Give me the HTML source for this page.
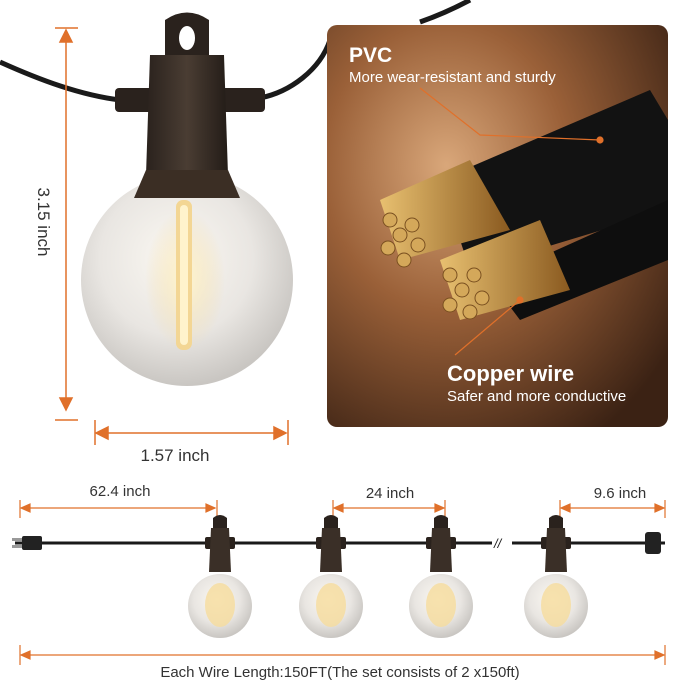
<!DOCTYPE html>
<html><head><meta charset="utf-8"><style>
html,body{margin:0;padding:0;background:#fff;}
svg{display:block;font-family:"Liberation Sans",sans-serif;}
</style></head><body>
<svg width="679" height="682" viewBox="0 0 679 682" xmlns="http://www.w3.org/2000/svg">
<defs>
<radialGradient id="glob" cx="45%" cy="40%" r="60%">
<stop offset="0" stop-color="#fbf8f2"/><stop offset="0.6" stop-color="#e9e6e2"/><stop offset="1" stop-color="#c9c6c2"/></radialGradient>
<radialGradient id="panel" cx="35%" cy="35%" r="80%">
<stop offset="0" stop-color="#d9a77a"/><stop offset="0.45" stop-color="#9a6038"/><stop offset="1" stop-color="#3b2214"/></radialGradient>
<linearGradient id="sock" x1="0" x2="1"><stop offset="0" stop-color="#2a221d"/><stop offset="0.5" stop-color="#4a3d33"/><stop offset="1" stop-color="#231c17"/></linearGradient>
<radialGradient id="glow" cx="50%" cy="50%" r="50%"><stop offset="0" stop-color="#fff6d0"/><stop offset="1" stop-color="#f2d9a0" stop-opacity="0"/></radialGradient>
<linearGradient id="cu" x1="0" x2="1"><stop offset="0" stop-color="#e8c070"/><stop offset="1" stop-color="#8a5a20"/></linearGradient>
</defs>

<!-- top cable -->
<path d="M0 62 C40 80 80 95 120 100" stroke="#1a1a1a" stroke-width="5" fill="none"/>
<path d="M260 98 C290 92 320 70 330 40" stroke="#1a1a1a" stroke-width="5" fill="none"/>
<path d="M420 22 C440 15 455 8 470 0" stroke="#1a1a1a" stroke-width="5" fill="none"/>

<!-- big bulb -->
<circle cx="187" cy="280" r="106" fill="url(#glob)"/>
<ellipse cx="185" cy="280" rx="40" ry="70" fill="url(#glow)"/>
<rect x="176" y="200" width="16" height="150" rx="7" fill="#f3d694"/>
<rect x="180" y="205" width="8" height="140" rx="4" fill="#fff3cc"/>
<path d="M165 20 Q187 5 209 20 L209 60 L165 60 Z" fill="#2a221d"/>
<ellipse cx="187" cy="38" rx="8" ry="12" fill="#fff"/>
<rect x="115" y="88" width="150" height="24" rx="4" fill="#2a221d"/>
<path d="M150 55 L224 55 L228 175 L146 175 Z" fill="url(#sock)"/>
<path d="M146 170 L228 170 L240 198 L134 198 Z" fill="#3b2e24"/>

<!-- vertical dim -->
<g stroke="#e0702a" stroke-width="1.5" fill="#e0702a">
<line x1="55" y1="28" x2="78" y2="28"/><line x1="55" y1="420" x2="78" y2="420"/>
<line x1="66" y1="32" x2="66" y2="408"/>
<path d="M60 42 L66 30 L72 42 Z"/><path d="M60 398 L66 410 L72 398 Z"/>
<line x1="95" y1="420" x2="95" y2="445"/><line x1="288" y1="420" x2="288" y2="445"/>
<line x1="98" y1="433" x2="284" y2="433"/>
<path d="M108 427 L96 433 L108 439 Z"/><path d="M274 427 L286 433 L274 439 Z"/>
</g>
<text x="38" y="222" font-size="17" fill="#333" transform="rotate(90 38 222)" text-anchor="middle">3.15 inch</text>
<text x="175" y="461" font-size="17" fill="#333" text-anchor="middle">1.57 inch</text>

<!-- right panel -->
<rect x="327" y="25" width="341" height="402" rx="10" fill="url(#panel)"/>
<path d="M440 180 L650 90 L668 120 L668 210 L470 270 Z" fill="#121212"/>
<path d="M490 280 L668 200 L668 260 L520 320 Z" fill="#0e0e0e"/>
<path d="M380 200 L470 160 L510 230 L400 260 Z" fill="url(#cu)"/>
<path d="M440 260 L540 220 L570 290 L460 320 Z" fill="url(#cu)"/>
<g fill="#d4a85a" stroke="#7a5020" stroke-width="1">
<circle cx="390" cy="220" r="7"/><circle cx="400" cy="235" r="7"/><circle cx="388" cy="248" r="7"/><circle cx="404" cy="260" r="7"/><circle cx="412" cy="225" r="7"/><circle cx="418" cy="245" r="7"/>
<circle cx="450" cy="275" r="7"/><circle cx="462" cy="290" r="7"/><circle cx="450" cy="305" r="7"/><circle cx="470" cy="312" r="7"/><circle cx="474" cy="275" r="7"/><circle cx="482" cy="298" r="7"/>
</g>
<g stroke="#e0702a" stroke-width="1.2" fill="#e0702a">
<path d="M420 88 L480 135 L600 140" fill="none"/><circle cx="600" cy="140" r="3"/>
<path d="M455 355 L520 300" fill="none"/><circle cx="520" cy="300" r="3"/>
</g>
<text x="349" y="62" font-size="21" font-weight="bold" fill="#fff">PVC</text>
<text x="349" y="82" font-size="15" fill="#fff">More wear-resistant and sturdy</text>
<text x="447" y="381" font-size="22" font-weight="bold" fill="#fff">Copper wire</text>
<text x="447" y="401" font-size="15" fill="#fff">Safer and more conductive</text>

<!-- bottom string -->
<g stroke="#e0702a" stroke-width="1.2" fill="#e0702a">
<line x1="20" y1="500" x2="20" y2="518"/><line x1="217" y1="500" x2="217" y2="518"/><line x1="22" y1="508" x2="215" y2="508"/>
<line x1="333" y1="500" x2="333" y2="518"/><line x1="445" y1="500" x2="445" y2="518"/><line x1="335" y1="508" x2="443" y2="508"/>
<line x1="560" y1="500" x2="560" y2="518"/><line x1="665" y1="500" x2="665" y2="518"/><line x1="562" y1="508" x2="663" y2="508"/>
<line x1="20" y1="645" x2="20" y2="665"/><line x1="665" y1="645" x2="665" y2="665"/><line x1="22" y1="655" x2="663" y2="655"/>
<path d="M30 504 L21 508 L30 512Z"/><path d="M206 504 L215 508 L206 512Z"/>
<path d="M343 504 L334 508 L343 512Z"/><path d="M435 504 L444 508 L435 512Z"/>
<path d="M570 504 L561 508 L570 512Z"/><path d="M655 504 L664 508 L655 512Z"/>
<path d="M30 651 L21 655 L30 659Z"/><path d="M655 651 L664 655 L655 659Z"/>
</g>
<text x="120" y="496" font-size="15" fill="#333" text-anchor="middle">62.4 inch</text>
<text x="390" y="498" font-size="15" fill="#333" text-anchor="middle">24 inch</text>
<text x="620" y="498" font-size="15" fill="#333" text-anchor="middle">9.6 inch</text>

<line x1="15" y1="543" x2="492" y2="543" stroke="#1a1a1a" stroke-width="3"/>
<line x1="512" y1="543" x2="665" y2="543" stroke="#1a1a1a" stroke-width="3"/>
<text x="494" y="548" font-size="13" fill="#1a1a1a" font-style="italic">//</text>
<rect x="22" y="536" width="20" height="14" rx="2" fill="#222"/><rect x="12" y="538" width="10" height="3" fill="#999"/><rect x="12" y="545" width="10" height="3" fill="#999"/>
<rect x="645" y="532" width="16" height="22" rx="3" fill="#222"/>

<g id="b1">
<circle cx="220" cy="606" r="32" fill="url(#glob)"/>
<ellipse cx="220" cy="605" rx="15" ry="22" fill="#f6dc9c" opacity="0.8"/>
<path d="M213 518 Q220 512 227 518 L227 530 L213 530Z" fill="#2a221d"/>
<rect x="205" y="537" width="30" height="12" rx="2" fill="#2a221d"/>
<path d="M211 528 L229 528 L231 572 L209 572Z" fill="#3a2f27"/>
</g>
<use href="#b1" x="111"/>
<use href="#b1" x="221"/>
<use href="#b1" x="336"/>

<text x="340" y="677" font-size="15" fill="#333" text-anchor="middle">Each Wire Length:150FT(The set consists of 2 x150ft)</text>
</svg>
</body></html>
